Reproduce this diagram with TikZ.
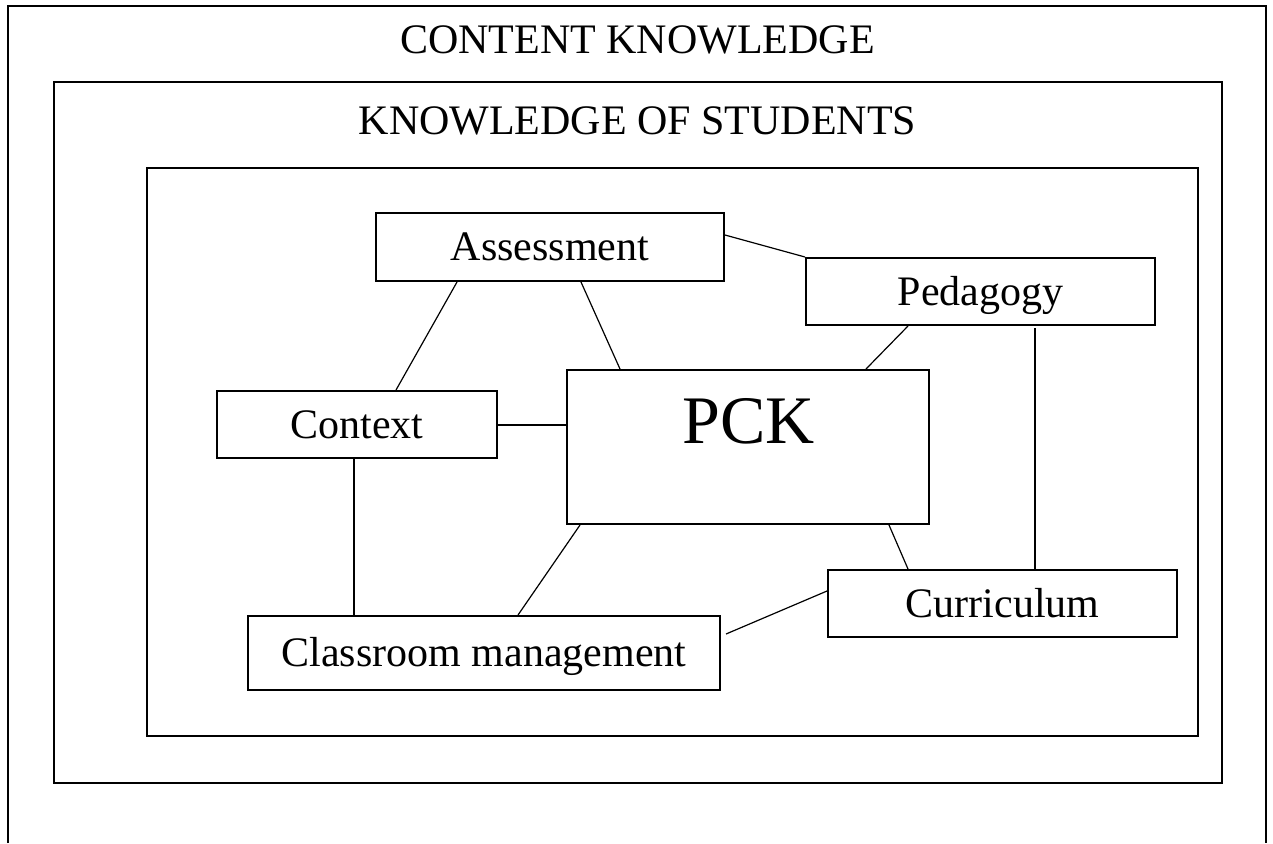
\documentclass[tikz,border=0pt]{standalone}
\usepackage{fontspec}
\setmainfont{Liberation Serif}
\usetikzlibrary{calc}
\begin{document}
\begin{tikzpicture}[x=0.5pt,y=-0.5pt,
  frame/.style={draw=black,line width=1.1pt},
  box/.style={draw=black,line width=1pt,rectangle,inner sep=0pt,font=\fontsize{21}{25}\selectfont,text height=13.9pt,text depth=0pt},
  title/.style={font=\fontsize{21}{25}\selectfont,inner sep=0pt,text height=13.9pt,text depth=0pt},
  link/.style={draw=black,line width=0.6pt}]
\useasboundingbox (0,0) rectangle (1273,843);
% frames
\draw[frame] (8,843) -- (8,6) -- (1266,6) -- (1266,843);
\draw[frame] (54,82) rectangle (1222,783);
\draw[frame] (147,168) rectangle (1198,736);
\node[title] (ck) at (637.5,40) {CONTENT KNOWLEDGE};
\node[title] (ks) at (637.5,121) {KNOWLEDGE OF STUDENTS};
% boxes
\node[box,minimum width=174pt,minimum height=34pt] (assess) at (550,247) {Assessment};
\node[box,minimum width=174.5pt,minimum height=33.5pt] (ped) at (980.5,291.5) {Pedagogy};
\node[box,minimum width=181pt,minimum height=77pt] (pck) at (748,447) {};
\node[font=\fontsize{34}{40}\selectfont,inner sep=0pt,text height=22.5pt,text depth=0pt] (pcklabel) at (748.5,420.5) {PCK};
\node[box,minimum width=140pt,minimum height=33.5pt] (ctx) at (357,424.5) {Context};
\node[box,minimum width=236pt,minimum height=37pt] (cls) at (484,653) {Classroom management};
\node[box,minimum width=174.5pt,minimum height=33.5pt] (cur) at (1002.5,603.5) {Curriculum};
% connectors
\draw[link] ($(assess.north east)+(0,23)$) -- (ped.north west);
\draw[link] ($(assess.south west)+(82,0)$) -- ($(ctx.north west)+(180,0)$);
\draw[link] ($(assess.south west)+(206,0)$) -- ($(pck.north west)+(54,0)$);
\draw[link] ($(ctx.north east)+(0,35)$) -- ($(pck.north west)+(0,56)$);
\draw[link] ($(ped.south west)+(103,0)$) -- ($(pck.north west)+(300,0)$);
\draw[link] ($(ped.south west)+(230,2)$) -- ($(cur.north west)+(208,0)$);
\draw[link] ($(ctx.south west)+(138,0)$) -- ($(cls.north west)+(107,0)$);
\draw[link] ($(pck.south west)+(14,0)$) -- ($(cls.north west)+(271,0)$);
\draw[link] ($(pck.south west)+(323,0)$) -- ($(cur.north west)+(81,0)$);
\draw[link] ($(cls.north east)+(5,19)$) -- ($(cur.north west)+(0,22)$);
\end{tikzpicture}
\end{document}
